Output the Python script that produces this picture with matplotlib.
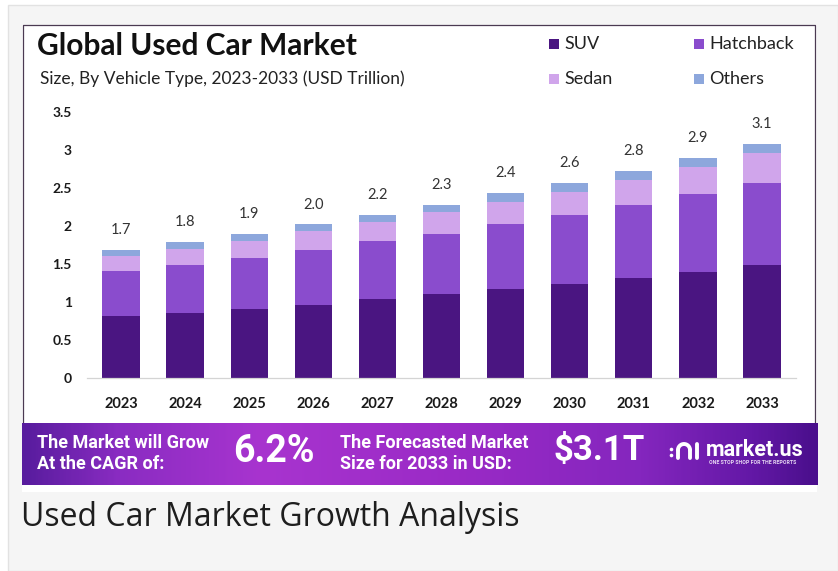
import numpy as np
import matplotlib
matplotlib.use("Agg")
import matplotlib.pyplot as plt
from matplotlib.patches import Rectangle
from matplotlib.lines import Line2D
from matplotlib.colors import LinearSegmentedColormap

# data (USD trillion)
years = ["2023", "2024", "2025", "2026", "2027", "2028", "2029", "2030", "2031", "2032", "2033"]
suv = [0.81, 0.86, 0.91, 0.96, 1.04, 1.10, 1.17, 1.24, 1.31, 1.39, 1.49]
hatchback = [0.60, 0.63, 0.67, 0.72, 0.76, 0.80, 0.85, 0.90, 0.97, 1.03, 1.08]
sedan = [0.19, 0.21, 0.22, 0.25, 0.25, 0.28, 0.30, 0.31, 0.33, 0.36, 0.39]
others = [0.08, 0.09, 0.09, 0.09, 0.09, 0.10, 0.11, 0.12, 0.12, 0.12, 0.12]
totals = ["1.7", "1.8", "1.9", "2.0", "2.2", "2.3", "2.4", "2.6", "2.8", "2.9", "3.1"]
series_names = ["SUV", "Hatchback", "Sedan", "Others"]
series_colors = ["#4a1581", "#8a4ccd", "#d0a5eb", "#8da7dc"]
yticks = [0, 0.5, 1, 1.5, 2, 2.5, 3, 3.5]
ytick_labels = ["0", "0.5", "1", "1.5", "2", "2.5", "3", "3.5"]

W, H = 838, 571


def fx(x):
    return x / W


def fy(y):
    return 1 - y / H


fig = plt.figure(figsize=(W / 100, H / 100), dpi=100)
fig.patch.set_facecolor("white")

# page background + white card
fig.add_artist(Rectangle((fx(8), fy(571)), (W - 8) / W, (571 - 5) / H, transform=fig.transFigure,
                         facecolor="#f5f5f5", edgecolor="#e2e2e2", lw=1, zorder=-3))
fig.add_artist(Rectangle((fx(22), fy(492)), (817 - 22) / W, (492 - 25) / H, transform=fig.transFigure,
                         facecolor="white", edgecolor="none", zorder=-2))
fig.add_artist(Line2D([fx(23), fx(23), fx(815), fx(815)], [fy(423), fy(25), fy(25), fy(423)],
                      transform=fig.transFigure, color="#4b3a52", lw=0.9, zorder=-1))

# titles
fig.text(fx(37), fy(46), "Global Used Car Market", family="Lato", weight="bold", fontsize=21.5,
         color="#111111", va="center", ha="left")
fig.text(fx(40), fy(79), "Size, By Vehicle Type, 2023-2033 (USD Trillion)", family="Lato",
         fontsize=12.5, color="#222222", va="center", ha="left")

# legend drawn by hand
leg_pos = [(549, 44), (694, 44), (549, 79), (694, 79)]
for (lx, ly), name, col in zip(leg_pos, series_names, series_colors):
    fig.add_artist(Rectangle((fx(lx), fy(ly + 5)), 10 / W, 10 / H, transform=fig.transFigure,
                             facecolor=col, edgecolor="none"))
    fig.text(fx(lx + 15), fy(ly), name, family="Lato", fontsize=13, color="#222222",
             va="center", ha="left")

# bar chart
ax = fig.add_axes([fx(87), fy(378), (796 - 87) / W, (378 - 112) / H])
ax.set_facecolor("none")
x = np.arange(len(years))
bottom = np.zeros(len(years))
for vals, col in zip([suv, hatchback, sedan, others], series_colors):
    ax.bar(x, vals, width=0.58, bottom=bottom, color=col, edgecolor="none", zorder=2)
    bottom += np.array(vals)

for i, lab in enumerate(totals):
    ax.text(x[i], bottom[i] + 0.17, lab, ha="center", va="bottom", family="Lato",
            fontsize=10.5, color="#333333", clip_on=False)

ax.set_xlim(-0.53, 10.53)
ax.set_ylim(0, 3.5)
ax.set_xticks(x)
ax.set_xticklabels(years, family="Lato", weight="bold", fontsize=10.5, color="#1a1a1a")
ax.set_yticks(yticks)
ax.set_yticklabels(ytick_labels, family="Lato", weight="bold", fontsize=10, color="#1a1a1a")
ax.tick_params(axis="x", length=0, pad=14)
ax.tick_params(axis="y", length=0, pad=11)
for s in ["top", "right", "left"]:
    ax.spines[s].set_visible(False)
ax.spines["bottom"].set_color("#d4d4d4")
ax.spines["bottom"].set_linewidth(0.9)

# purple banner with gradient
bax = fig.add_axes([fx(22), fy(485), (817 - 22) / W, (485 - 423) / H])
grad_cmap = LinearSegmentedColormap.from_list("banner", [
    (0.0, "#581c9e"), (0.12, "#8a2cc2"), (0.30, "#a834cf"), (0.55, "#9a2ac6"),
    (0.78, "#8426be"), (0.92, "#6318a6"), (1.0, "#4a0f8c")])
bax.imshow(np.linspace(0, 1, 400).reshape(1, -1), cmap=grad_cmap, aspect="auto",
           extent=[0, 1, 0, 1])
bax.set_axis_off()

fig.text(fx(37), fy(443), "The Market will Grow", family="Roboto", weight="bold", fontsize=13,
         color="white", va="center", ha="left")
fig.text(fx(37), fy(464), "At the CAGR of:", family="Roboto", weight="bold", fontsize=13,
         color="white", va="center", ha="left")
fig.text(fx(233), fy(451), "6.2%", family="Roboto", weight="bold", fontsize=27,
         color="white", va="center", ha="left")
fig.text(fx(340), fy(443), "The Forecasted Market", family="Roboto", weight="bold", fontsize=13,
         color="white", va="center", ha="left")
fig.text(fx(340), fy(464), "Size for 2033 in USD:", family="Roboto", weight="bold", fontsize=13,
         color="white", va="center", ha="left")
fig.text(fx(553), fy(451), "$3.1T", family="Roboto", weight="bold", fontsize=25,
         color="white", va="center", ha="left")

# market.us logo mark
t = np.linspace(np.pi, 0, 30)
fig.add_artist(Line2D(fx(684 + 6 * np.cos(t)), fy(450 - 6 * np.sin(t)), transform=fig.transFigure,
                      color="white", lw=2.8, solid_capstyle="round"))
fig.add_artist(Line2D([fx(678), fx(678)], [fy(450), fy(458)], transform=fig.transFigure,
                      color="white", lw=2.8, solid_capstyle="round"))
fig.add_artist(Line2D([fx(690), fx(690)], [fy(450), fy(458)], transform=fig.transFigure,
                      color="white", lw=2.8, solid_capstyle="round"))
fig.add_artist(Line2D([fx(697), fx(697)], [fy(444), fy(458)], transform=fig.transFigure,
                      color="white", lw=2.8, solid_capstyle="round"))
fig.add_artist(Line2D([fx(671), fx(671)], [fy(449), fy(455)], transform=fig.transFigure,
                      color="white", lw=0, marker="o", markersize=2.6, markeredgewidth=0))
fig.text(fx(706), fy(450), "market.us", family="Roboto", weight="bold", fontsize=15.5,
         color="white", va="center", ha="left")
fig.text(fx(709), fy(463), "ONE STOP SHOP FOR THE REPORTS", family="Roboto", weight="bold",
         fontsize=3.8, color="#e6d6f2", va="center", ha="left")

# caption under the card
fig.text(fx(21), fy(518), "Used Car Market Growth Analysis", family="Open Sans", fontsize=23,
         color="#1e1e1e", va="center", ha="left")

fig.savefig("out.png", dpi=100, facecolor=fig.get_facecolor())
